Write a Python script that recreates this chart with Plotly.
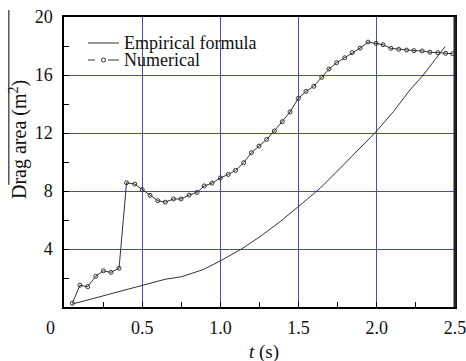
import plotly.graph_objects as go

# ---- data ----
num_t = [0.053, 0.102, 0.151, 0.203, 0.252, 0.300, 0.352, 0.400, 0.452, 0.500,
         0.550, 0.600, 0.648, 0.700, 0.748, 0.800, 0.850, 0.897, 0.946, 1.000,
         1.050, 1.097, 1.149, 1.198, 1.247, 1.296, 1.345, 1.396, 1.445, 1.498,
         1.547, 1.597, 1.648, 1.694, 1.743, 1.795, 1.843, 1.893, 1.944, 1.995,
         2.040, 2.090, 2.140, 2.190, 2.238, 2.290, 2.340, 2.390, 2.440, 2.485]
num_v = [0.26, 1.50, 1.40, 2.12, 2.50, 2.39, 2.67, 8.57, 8.48, 8.09,
         7.70, 7.33, 7.23, 7.45, 7.45, 7.72, 7.90, 8.35, 8.54, 8.90,
         9.14, 9.42, 9.95, 10.64, 11.10, 11.56, 12.14, 12.78, 13.45, 14.39,
         14.87, 15.22, 15.84, 16.41, 16.85, 17.19, 17.54, 17.85, 18.27, 18.18,
         18.09, 17.84, 17.77, 17.72, 17.68, 17.66, 17.57, 17.54, 17.50, 17.47]

emp_t = [0.053, 0.30, 0.50, 0.614, 0.646, 0.752, 0.89, 1.00, 1.132, 1.253,
         1.381, 1.498, 1.573, 1.637, 1.786, 1.893, 1.995, 2.106, 2.212, 2.297,
         2.383, 2.436]
emp_v = [0.20, 0.92, 1.50, 1.82, 1.91, 2.09, 2.58, 3.18, 3.98, 4.85,
         5.88, 6.92, 7.61, 8.18, 9.79, 10.94, 12.09, 13.47, 14.97, 16.00,
         17.26, 17.95]

series_names = ["Empirical formula", "Numerical"]
x_tickvals = [0.5, 1.0, 1.5, 2.0, 2.5]
x_ticktext = ["0.5", "1.0", "1.5", "2.0", "2.5"]
origin_label = "0"
y_tickvals = [4, 8, 12, 16, 20]
y_ticktext = ["4", "8", "12", "16", "20"]

FONT = "Liberation Serif, Times New Roman, serif"
GRID = "#4a4ab4"
INK = "#333333"

fig = go.Figure()
fig.add_trace(go.Scatter(
    x=emp_t, y=emp_v, mode="lines", name=series_names[0],
    line=dict(color=INK, width=1)))
fig.add_trace(go.Scatter(
    x=num_t, y=num_v, mode="lines+markers", name=series_names[1],
    line=dict(color=INK, width=1),
    marker=dict(symbol="circle-open", size=4, color=INK, line=dict(width=1))))

fig.update_layout(
    width=466, height=361,
    margin=dict(l=64, r=11, t=17, b=54),
    paper_bgcolor="white", plot_bgcolor="white",
    font=dict(family=FONT, size=18, color="#111111"),
    showlegend=False,
    xaxis=dict(range=[0, 2.5], tickvals=x_tickvals, ticktext=x_ticktext,
               automargin=False, ticklabeloverflow="allow",
               showgrid=True, gridcolor=GRID, gridwidth=1,
               showline=True, linecolor="black", linewidth=1.5, mirror=True,
               ticks="inside", ticklen=5, tickcolor="black",
               minor=dict(tickvals=[0.25, 0.75, 1.25, 1.75, 2.25], ticks="inside",
                          ticklen=5, tickcolor="black", showgrid=False),
               zeroline=False, ticklabelstandoff=4,
               tickfont=dict(family=FONT, size=18)),
    yaxis=dict(range=[0, 20], tickvals=y_tickvals, ticktext=y_ticktext,
               automargin=False, ticklabeloverflow="allow",
               showgrid=True, gridcolor=GRID, gridwidth=1,
               showline=True, linecolor="black", linewidth=1.5, mirror=True,
               ticks="inside", ticklen=5, tickcolor="black",
               minor=dict(tickvals=[2, 6, 10, 14, 18], ticks="inside",
                          ticklen=5, tickcolor="black", showgrid=False),
               zeroline=False, ticklabelstandoff=6,
               tickfont=dict(family=FONT, size=18)),
)

# ---- compact legend (tight line spacing like the reference) ----
PW, PH = 391.0, 290.0   # plot area size in px
def px(xp):  # px from plot left -> paper x
    return xp / PW
def py(yp):  # px from plot top -> paper y
    return 1 - yp / PH

leg_rows = [26, 43]          # px below plot top
sx0, sx1, tx = 24, 55, 58    # px from plot left
for i, name in enumerate(series_names):
    y = py(leg_rows[i])
    fig.add_annotation(x=px(tx), y=y, xref="paper", yref="paper", text=name,
                       showarrow=False, xanchor="left", yanchor="middle",
                       font=dict(family=FONT, size=18, color="#111111"))
# empirical sample: solid line
fig.add_shape(type="line", xref="paper", yref="paper",
              x0=px(sx0), x1=px(sx1), y0=py(leg_rows[0]), y1=py(leg_rows[0]),
              line=dict(color=INK, width=1))
# numerical sample: dash, circle, dash
fig.add_shape(type="line", xref="paper", yref="paper",
              x0=px(sx0), x1=px(31), y0=py(leg_rows[1]), y1=py(leg_rows[1]),
              line=dict(color=INK, width=1))
fig.add_shape(type="line", xref="paper", yref="paper",
              x0=px(44), x1=px(sx1), y0=py(leg_rows[1]), y1=py(leg_rows[1]),
              line=dict(color=INK, width=1))
fig.add_shape(type="circle", xref="paper", yref="paper",
              x0=px(37.5), x1=px(41.5), y0=py(leg_rows[1] - 2), y1=py(leg_rows[1] + 2),
              line=dict(color=INK, width=1))

# origin label
fig.add_annotation(x=0, y=0, xref="x", yref="y", text=origin_label,
                   showarrow=False, xshift=-14, yshift=-21,
                   font=dict(family=FONT, size=18))
# axis titles
fig.add_annotation(x=0.5, y=-0.155, xref="paper", yref="paper",
                   text="<i>t</i> (s)", showarrow=False, yanchor="middle",
                   xshift=4, font=dict(family=FONT, size=19))
fig.add_annotation(x=-0.115, y=0.576, xref="paper", yref="paper",
                   text="Drag area (m<sup>2</sup>)", showarrow=False, textangle=-90,
                   xanchor="center", yanchor="middle",
                   font=dict(family=FONT, size=20))
# overline bar beside y title
fig.add_shape(type="line", xref="paper", yref="paper",
              x0=-0.141, x1=-0.141, y0=1.024, y1=0.421,
              line=dict(color="black", width=1))
# heavier right frame
fig.add_shape(type="line", xref="paper", yref="paper",
              x0=1, x1=1, y0=0, y1=1, line=dict(color="#222222", width=3))

fig.write_html("out.html", config={"displayModeBar": False},
               post_script="document.body.style.margin='0';document.body.style.overflow='hidden';")
